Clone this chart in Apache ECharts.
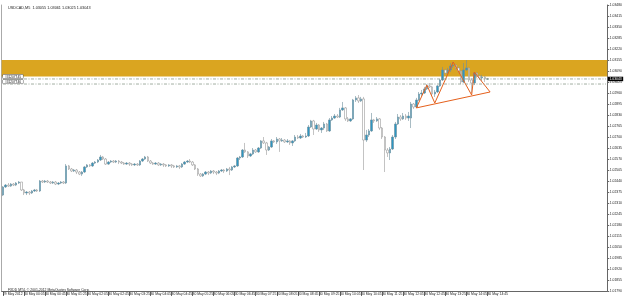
<!DOCTYPE html>
<html><head><meta charset="utf-8">
<script src="https://cdn.jsdelivr.net/npm/echarts@6/dist/echarts.min.js"></script>
<style>html,body{margin:0;padding:0;background:#fff}#c{width:625px;height:297px}</style>
</head><body><div id="c"></div>
<script>
const tickLabels = ['29 May 2012','30 May 00:05','30 May 00:45','30 May 01:25','30 May 02:05','30 May 02:45','30 May 03:25','30 May 04:05','30 May 04:45','30 May 05:25','30 May 06:05','30 May 06:45','30 May 07:25','30 May 08:05','30 May 08:45','30 May 09:25','30 May 10:05','30 May 10:45','30 May 11:25','30 May 12:05','30 May 12:45','30 May 13:25','30 May 14:05','30 May 14:45'];
const barsPerLabel = 8;
const slotCount = 230;

const opens = [1.02357,1.02405,1.02416,1.02410,1.02422,1.02416,1.02428,1.02434,1.02387,1.02369,
1.02375,1.02369,1.02381,1.02387,1.02381,1.02440,1.02434,1.02440,1.02434,1.02428,
1.02434,1.02422,1.02428,1.02434,1.02428,1.02529,1.02511,1.02499,1.02505,1.02493,
1.02481,1.02493,1.02523,1.02535,1.02529,1.02546,1.02552,1.02564,1.02582,1.02570,
1.02540,1.02552,1.02558,1.02552,1.02558,1.02552,1.02546,1.02540,1.02546,1.02540,
1.02535,1.02540,1.02535,1.02558,1.02570,1.02582,1.02558,1.02546,1.02540,1.02546,
1.02535,1.02540,1.02535,1.02529,1.02535,1.02529,1.02523,1.02529,1.02523,1.02540,
1.02552,1.02558,1.02552,1.02535,1.02511,1.02481,1.02470,1.02481,1.02493,1.02487,
1.02499,1.02493,1.02487,1.02499,1.02505,1.02499,1.02511,1.02505,1.02523,1.02529,
1.02576,1.02582,1.02623,1.02612,1.02588,1.02600,1.02623,1.02612,1.02635,1.02677,
1.02665,1.02623,1.02641,1.02677,1.02671,1.02688,1.02677,1.02682,1.02671,1.02677,
1.02665,1.02677,1.02700,1.02694,1.02706,1.02700,1.02706,1.02759,1.02795,1.02747,
1.02771,1.02742,1.02753,1.02777,1.02736,1.02801,1.02812,1.02824,1.02818,1.02860,
1.02872,1.02807,1.02795,1.02807,1.02919,1.02931,1.02913,1.02925,1.02682,1.02712,
1.02736,1.02801,1.02795,1.02807,1.02753,1.02700,1.02623,1.02606,1.02629,1.02700,
1.02777,1.02818,1.02807,1.02824,1.02812,1.02812,1.02895,1.02877,1.02919,1.02954,
1.02960,1.02984,1.03002,1.02996,1.02954,1.02966,1.03002,1.03037,1.03096,1.03078,
1.03096,1.03120,1.03126,1.03108,1.03090,1.03025,1.03096,1.03108,1.03037,1.03019,
1.03078,1.03061,1.03049,1.03055,1.03043];

const closes = [1.02405,1.02416,1.02410,1.02422,1.02416,1.02428,1.02434,1.02387,1.02369,1.02375,
1.02369,1.02381,1.02387,1.02381,1.02440,1.02434,1.02440,1.02434,1.02428,1.02434,
1.02422,1.02428,1.02434,1.02428,1.02529,1.02511,1.02499,1.02505,1.02493,1.02481,
1.02493,1.02523,1.02535,1.02529,1.02546,1.02552,1.02564,1.02582,1.02570,1.02540,
1.02552,1.02558,1.02552,1.02558,1.02552,1.02546,1.02540,1.02546,1.02540,1.02535,
1.02540,1.02535,1.02558,1.02570,1.02582,1.02558,1.02546,1.02540,1.02546,1.02535,
1.02540,1.02535,1.02529,1.02535,1.02529,1.02523,1.02529,1.02523,1.02540,1.02552,
1.02558,1.02552,1.02535,1.02511,1.02481,1.02470,1.02481,1.02493,1.02487,1.02499,
1.02493,1.02487,1.02499,1.02505,1.02499,1.02511,1.02505,1.02523,1.02529,1.02576,
1.02582,1.02623,1.02612,1.02588,1.02600,1.02623,1.02612,1.02635,1.02677,1.02665,
1.02623,1.02641,1.02677,1.02671,1.02688,1.02677,1.02682,1.02671,1.02677,1.02665,
1.02677,1.02700,1.02694,1.02706,1.02700,1.02706,1.02759,1.02795,1.02747,1.02771,
1.02742,1.02753,1.02777,1.02736,1.02801,1.02812,1.02824,1.02818,1.02860,1.02872,
1.02807,1.02795,1.02807,1.02919,1.02931,1.02913,1.02925,1.02682,1.02712,1.02736,
1.02801,1.02795,1.02807,1.02753,1.02700,1.02623,1.02606,1.02629,1.02700,1.02777,
1.02818,1.02807,1.02824,1.02812,1.02824,1.02895,1.02877,1.02919,1.02954,1.02960,
1.02984,1.03002,1.02996,1.02954,1.02966,1.03002,1.03037,1.03096,1.03078,1.03096,
1.03120,1.03126,1.03108,1.03090,1.03025,1.03096,1.03108,1.03037,1.03019,1.03078,
1.03061,1.03049,1.03055,1.03043,1.03043];

const lows = [1.02351,1.02399,1.02405,1.02405,1.02410,1.02410,1.02422,1.02381,1.02357,1.02357,
1.02357,1.02363,1.02375,1.02375,1.02375,1.02428,1.02428,1.02428,1.02422,1.02422,
1.02416,1.02416,1.02422,1.02422,1.02422,1.02505,1.02493,1.02493,1.02481,1.02475,
1.02470,1.02487,1.02517,1.02523,1.02523,1.02540,1.02546,1.02558,1.02564,1.02535,
1.02535,1.02546,1.02546,1.02546,1.02540,1.02540,1.02535,1.02535,1.02529,1.02529,
1.02529,1.02529,1.02529,1.02552,1.02564,1.02552,1.02540,1.02535,1.02535,1.02529,
1.02529,1.02523,1.02523,1.02523,1.02517,1.02517,1.02517,1.02511,1.02517,1.02535,
1.02546,1.02546,1.02529,1.02505,1.02470,1.02464,1.02464,1.02475,1.02475,1.02481,
1.02481,1.02475,1.02481,1.02493,1.02487,1.02493,1.02475,1.02499,1.02517,1.02523,
1.02564,1.02576,1.02606,1.02576,1.02582,1.02594,1.02606,1.02606,1.02629,1.02659,
1.02594,1.02617,1.02635,1.02665,1.02659,1.02612,1.02671,1.02665,1.02665,1.02653,
1.02647,1.02671,1.02688,1.02688,1.02694,1.02694,1.02700,1.02753,1.02712,1.02742,
1.02730,1.02724,1.02742,1.02730,1.02730,1.02795,1.02807,1.02812,1.02812,1.02854,
1.02795,1.02789,1.02789,1.02801,1.02907,1.02901,1.02907,1.02505,1.02671,1.02700,
1.02730,1.02783,1.02789,1.02742,1.02688,1.02493,1.02582,1.02564,1.02623,1.02688,
1.02771,1.02795,1.02801,1.02801,1.02795,1.02753,1.02866,1.02872,1.02913,1.02942,
1.02954,1.02978,1.02990,1.02942,1.02937,1.02960,1.02996,1.03031,1.03067,1.03067,
1.03084,1.03108,1.03096,1.03078,1.03013,1.03019,1.03090,1.03025,1.02960,1.03007,
1.03049,1.03037,1.03031,1.03025,1.03037];

const highs = [1.02410,1.02422,1.02428,1.02428,1.02428,1.02434,1.02440,1.02434,1.02393,1.02381,
1.02381,1.02387,1.02393,1.02393,1.02446,1.02446,1.02446,1.02446,1.02440,1.02440,
1.02440,1.02434,1.02440,1.02440,1.02540,1.02535,1.02517,1.02511,1.02511,1.02499,
1.02499,1.02529,1.02540,1.02540,1.02552,1.02558,1.02570,1.02594,1.02588,1.02576,
1.02558,1.02564,1.02564,1.02564,1.02564,1.02558,1.02552,1.02552,1.02552,1.02546,
1.02546,1.02546,1.02564,1.02576,1.02588,1.02588,1.02564,1.02552,1.02552,1.02552,
1.02546,1.02546,1.02540,1.02540,1.02540,1.02535,1.02535,1.02535,1.02546,1.02558,
1.02564,1.02570,1.02558,1.02540,1.02517,1.02487,1.02487,1.02499,1.02499,1.02505,
1.02505,1.02499,1.02505,1.02511,1.02511,1.02517,1.02523,1.02529,1.02535,1.02582,
1.02588,1.02629,1.02665,1.02617,1.02606,1.02635,1.02629,1.02641,1.02682,1.02700,
1.02671,1.02647,1.02688,1.02682,1.02700,1.02694,1.02694,1.02688,1.02688,1.02682,
1.02682,1.02712,1.02712,1.02718,1.02712,1.02724,1.02771,1.02801,1.02801,1.02783,
1.02777,1.02759,1.02789,1.02783,1.02812,1.02824,1.02836,1.02836,1.02872,1.02907,
1.02877,1.02818,1.02812,1.02925,1.02942,1.02948,1.02937,1.02937,1.02742,1.02747,
1.02842,1.02807,1.02818,1.02812,1.02759,1.02706,1.02635,1.02641,1.02712,1.02789,
1.02836,1.02830,1.02842,1.02836,1.02848,1.02907,1.02901,1.02931,1.02966,1.02978,
1.02996,1.03013,1.03019,1.03002,1.02978,1.03007,1.03043,1.03114,1.03102,1.03108,
1.03137,1.03143,1.03132,1.03120,1.03096,1.03137,1.03155,1.03114,1.03049,1.03084,
1.03084,1.03072,1.03067,1.03061,1.03049];

// pattern drawn on the chart: [bar index, price]
const zigzag = [[157,1.02872],[161,1.03007],[164,1.02901],[171,1.03143],[178,1.02948],[179,1.03084],[185,1.02966]];
const trendline = [[157,1.02872],[185,1.02966]];
const zoneTop = 1.03155, zoneBottom = 1.03058;
const secondLevel = 1.03013;
const orderNames = ['#31207745', '#31207746'];
const yMin = 1.01790, yMax = 1.03480, yStep = 0.00065;
const titleText = 'USDCAD,M5  1.03055 1.03061 1.03025 1.03043';
const footerText = 'FXDD MT4, \u00a9 2001-2012 MetaQuotes Software Corp.';

const categories = [];
for (let i = 0; i < slotCount; i++) categories.push('b' + i);
const candles = opens.map((o, i) => [o, closes[i], lows[i], highs[i]]);
const lastPrice = closes[closes.length - 1];
const showIdx = (i) => i % barsPerLabel === 0 && i / barsPerLabel < tickLabels.length;
const F = 'Liberation Sans, Arial, sans-serif';

const boxLabel = (name) => ({
  show: true, position: 'top', align: 'left', distance: 0.5, formatter: name, fontSize: 3.2,
  color: '#111', backgroundColor: '#fff', borderColor: '#555', borderWidth: 0.5,
  padding: [0.6, 2, 0.2, 2], fontFamily: F
});
const levelSeries = (v, name, extra) => Object.assign({
  type: 'line', z: 5, silent: true, symbol: 'circle', symbolSize: 0.01, showSymbol: true,
  lineStyle: {color: '#8a9a8a', type: [3, 1.5, 1, 1.5], width: 0.8},
  itemStyle: {color: 'rgba(0,0,0,0)'},
  data: [{value: [0, v], label: boxLabel(name)}, {value: [slotCount - 1, v], label: {show: false}}]
}, extra || {});

const chart = echarts.init(document.getElementById('c'), null, {renderer: 'canvas'});
chart.setOption({
  animation: false,
  backgroundColor: '#ffffff',
  title: [
    {text: titleText, left: 3, top: 1, textStyle: {fontSize: 3.8, fontWeight: 'normal', color: '#222', fontFamily: F}},
    {text: footerText, left: 3, top: 284, textStyle: {fontSize: 3.4, fontWeight: 'normal', color: '#222', fontFamily: F}}
  ],
  grid: {left: 0, right: 13, top: 5, bottom: 6},
  xAxis: {
    type: 'category', data: categories, boundaryGap: true,
    axisLine: {show: true, lineStyle: {color: '#666', width: 1}},
    axisTick: {show: true, alignWithLabel: true, length: 5, interval: (i) => showIdx(i), lineStyle: {color: '#666'}},
    axisLabel: {
      interval: (i) => showIdx(i), align: 'left', margin: 1.5,
      fontSize: 3.4, color: '#222', fontFamily: F,
      formatter: (v, i) => tickLabels[i / barsPerLabel] || ''
    },
    splitLine: {show: false}
  },
  yAxis: [{
    type: 'value', position: 'right', min: yMin, max: yMax, interval: yStep, scale: true,
    axisLine: {show: true, lineStyle: {color: '#666', width: 1}},
    axisTick: {show: true, length: 2, lineStyle: {color: '#666'}},
    axisLabel: {fontSize: 3.4, color: '#222', margin: 2.5, fontFamily: F, formatter: (v) => v.toFixed(5)},
    splitLine: {show: false}
  }, {
    type: 'value', position: 'left', min: yMin, max: yMax,
    axisLine: {show: true, lineStyle: {color: '#aaa', width: 1}},
    axisTick: {show: false}, axisLabel: {show: false}, splitLine: {show: false}
  }],
  series: [
    {
      type: 'candlestick', data: candles, barWidth: 2, z: 2,
      itemStyle: {color: '#2D96C2', color0: '#ffffff', borderColor: '#6f8f9c', borderColor0: '#9a9a9a', borderWidth: 0.6},
      markArea: {
        silent: true, z: 1,
        itemStyle: {color: '#DAA520', opacity: 1},
        data: [[{yAxis: zoneTop}, {yAxis: zoneBottom}]]
      }
    },
    levelSeries(lastPrice, orderNames[0], {
      z: 6,
      endLabel: {show: true, distance: 2, formatter: lastPrice.toFixed(5), fontSize: 3.4, color: '#fff',
                 backgroundColor: '#000', padding: [1, 1.5, 0.5, 1.5], fontFamily: F}
    }),
    levelSeries(secondLevel, orderNames[1]),
    {type: 'line', data: zigzag, symbol: 'none', z: 4, lineStyle: {color: '#E5601C', width: 1}, itemStyle: {color: '#E5601C'}},
    {type: 'line', data: trendline, symbol: 'none', z: 4, lineStyle: {color: '#E5601C', width: 1}, itemStyle: {color: '#E5601C'}}
  ]
});
</script></body></html>
